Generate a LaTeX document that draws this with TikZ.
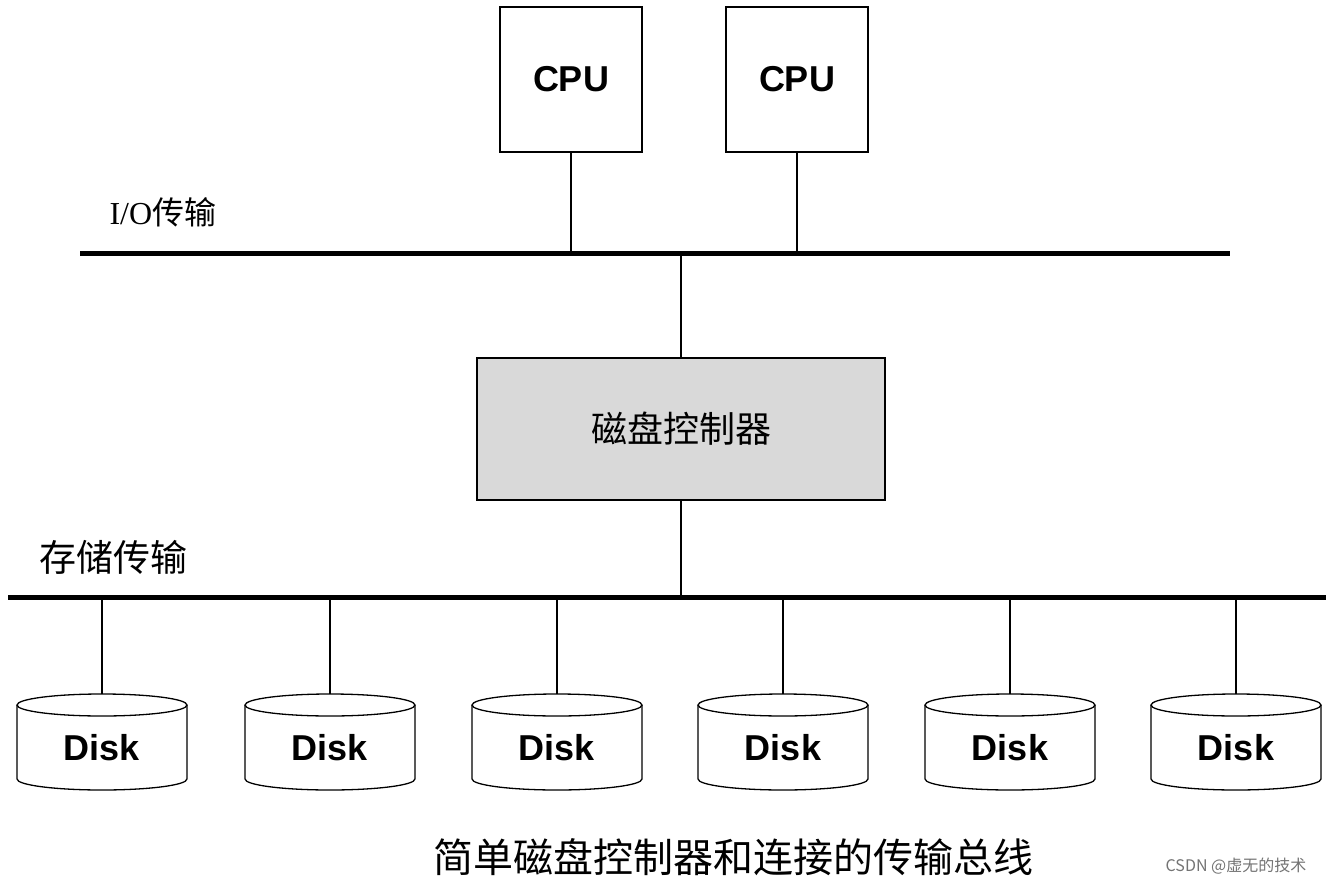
\documentclass[tikz,border=0pt]{standalone}
\usepackage{fontspec}
\setmainfont{Liberation Serif}
\setsansfont{Liberation Sans}
\newfontfamily\cjk{Noto Sans CJK SC}
\begin{document}
\begin{tikzpicture}[x=1pt,y=-1pt,
  box/.style={draw,line width=1.3pt,inner sep=0pt},
  lab/.style={font=\sffamily\bfseries\fontsize{36}{38}\selectfont},
  bus/.style={line width=5pt},
  conn/.style={line width=1.3pt}]
\useasboundingbox (0,0) rectangle (1334,886);
\node[box,minimum width=142pt,minimum height=145pt,lab] (c1) at (571,79.5) {CPU};
\node[box,minimum width=142pt,minimum height=145pt,lab] (c2) at (797,79.5) {CPU};
\coordinate (b1l) at (80,253); \coordinate (b1r) at (1230,253);
\draw[bus] (b1l) -- (b1r);
\node[font=\fontsize{32}{34}\selectfont,anchor=west] (iol) at (106,212) {I/O\cjk 传输};
\draw[conn] (c1.south) -- (c1.south |- b1l);
\draw[conn] (c2.south) -- (c2.south |- b1l);
\node[box,fill=black!15,minimum width=408pt,minimum height=142pt,font=\cjk\fontsize{36}{38}\selectfont] (ctl) at (681,429) {磁盘控制器};
\draw[conn] (ctl.north) -- (ctl.north |- b1l);
\coordinate (b2l) at (8,597); \coordinate (b2r) at (1326,597);
\draw[bus] (b2l) -- (b2r);
\draw[conn] (ctl.south) -- (ctl.south |- b2l);
\node[font=\cjk\fontsize{37}{39}\selectfont,anchor=west] (stl) at (36,557) {存储传输};
\foreach \i/\x in {1/102,2/330,3/557,4/783,5/1010,6/1236}{
  \fill[white] (\x-85,705) rectangle (\x+85,779);
  \draw[line width=1.3pt] (\x,705) ellipse [x radius=85, y radius=11];
  \draw[line width=1.3pt] (\x-85,705) -- (\x-85,779) arc[start angle=180,end angle=0,x radius=85,y radius=11] -- (\x+85,705);
  \node[lab] (d\i) at (\x,748) {Disk};
  \coordinate (t\i) at (\x,694);
  \draw[conn] (t\i) -- (t\i |- b2l);
}
\node[font=\cjk\fontsize{40}{42}\selectfont] (cap) at (733,857) {简单磁盘控制器和连接的传输总线};
\node[font=\cjk\fontsize{16}{18}\selectfont,text=black!55] (wm) at (1236,866) {CSDN @虚无的技术};
\end{tikzpicture}
\end{document}
